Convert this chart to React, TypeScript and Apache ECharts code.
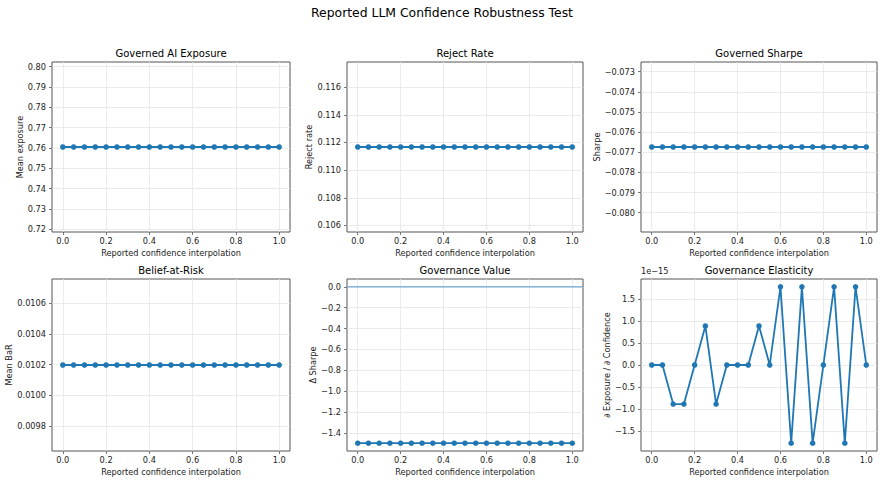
import { useEffect, useRef } from "react";
import * as echarts from "echarts";

// Reported-confidence interpolation grid (x for every panel)
const INTERP = [
  0.0, 0.05, 0.1, 0.15, 0.2, 0.25, 0.3, 0.35, 0.4, 0.45, 0.5,
  0.55, 0.6, 0.65, 0.7, 0.75, 0.8, 0.85, 0.9, 0.95, 1.0,
];

const MEAN_EXPOSURE = [
  0.7605, 0.7605, 0.7605, 0.7605, 0.7605, 0.7605, 0.7605, 0.7605, 0.7605, 0.7605, 0.7605,
  0.7605, 0.7605, 0.7605, 0.7605, 0.7605, 0.7605, 0.7605, 0.7605, 0.7605, 0.7605,
];
const REJECT_RATE = [
  0.11167, 0.11167, 0.11167, 0.11167, 0.11167, 0.11167, 0.11167, 0.11167, 0.11167, 0.11167, 0.11167,
  0.11167, 0.11167, 0.11167, 0.11167, 0.11167, 0.11167, 0.11167, 0.11167, 0.11167, 0.11167,
];
const GOVERNED_SHARPE = [
  -0.07674, -0.07674, -0.07674, -0.07674, -0.07674, -0.07674, -0.07674, -0.07674, -0.07674, -0.07674, -0.07674,
  -0.07674, -0.07674, -0.07674, -0.07674, -0.07674, -0.07674, -0.07674, -0.07674, -0.07674, -0.07674,
];
const MEAN_BAR = [
  0.010197, 0.010197, 0.010197, 0.010197, 0.010197, 0.010197, 0.010197, 0.010197, 0.010197, 0.010197, 0.010197,
  0.010197, 0.010197, 0.010197, 0.010197, 0.010197, 0.010197, 0.010197, 0.010197, 0.010197, 0.010197,
];
const DELTA_SHARPE = [
  -1.497, -1.497, -1.497, -1.497, -1.497, -1.497, -1.497, -1.497, -1.497, -1.497, -1.497,
  -1.497, -1.497, -1.497, -1.497, -1.497, -1.497, -1.497, -1.497, -1.497, -1.497,
];
// Elasticity, in units of 1e-15
const ELASTICITY_E15 = [
  0.0, 0.0, -0.888, -0.888, 0.0, 0.888, -0.888, 0.0, 0.0, 0.0, 0.888,
  0.0, 1.776, -1.776, 1.776, -1.776, 0.0, 1.776, -1.776, 1.776, 0.0,
];

// Reference level drawn across the Governance Value panel
const ZERO_LEVEL = 0;

// Tick labels
const X_TICKS = [0.0, 0.2, 0.4, 0.6, 0.8, 1.0];
const EXPOSURE_TICKS = [0.72, 0.73, 0.74, 0.75, 0.76, 0.77, 0.78, 0.79, 0.8];
const REJECT_TICKS = [0.106, 0.108, 0.11, 0.112, 0.114, 0.116];
const SHARPE_TICKS = [-0.08, -0.079, -0.078, -0.077, -0.076, -0.075, -0.074, -0.073];
const BAR_TICKS = [0.0098, 0.01, 0.0102, 0.0104, 0.0106];
const VALUE_TICKS = [-1.4, -1.2, -1.0, -0.8, -0.6, -0.4, -0.2, 0.0];
const ELASTICITY_TICKS = [-1.5, -1.0, -0.5, 0.0, 0.5, 1.0, 1.5];

const SUPTITLE = "Reported LLM Confidence Robustness Test";
const X_LABEL = "Reported confidence interpolation";

const FONT = "DejaVu Sans";
const BLUE = "#1f77b4";
const SPINE = "#555555";
const GRIDLINE = "#e6e6e6";

const X_MIN = -0.05;
const X_MAX = 1.05;

const COL_LEFT = [52, 347, 641];
const COL_WIDTH = [238, 236, 236];
const ROW_TOP = [62, 279];
const ROW_HEIGHT = [170, 172];

// matplotlib-style autoscale: expand singular ranges, then 5% margins
function autoLimits(values: number[], extra: number[] = []): [number, number] {
  const all = values.concat(extra);
  let lo = Math.min(...all);
  let hi = Math.max(...all);
  if (lo === hi) {
    const d = Math.abs(lo) * 0.05 || 0.05;
    lo -= d;
    hi += d;
  }
  const m = (hi - lo) * 0.05;
  return [lo - m, hi + m];
}

const fmt = (digits: number) => (v: number) => v.toFixed(digits).replace("-", "\u2212");

type Panel = {
  title: string;
  yName: string;
  nameGap: number;
  values: number[];
  ticks: number[];
  digits: number;
  zeroLine?: boolean;
};

const PANELS: Panel[] = [
  { title: "Governed AI Exposure", yName: "Mean exposure", nameGap: 27, values: MEAN_EXPOSURE, ticks: EXPOSURE_TICKS, digits: 2 },
  { title: "Reject Rate", yName: "Reject rate", nameGap: 34, values: REJECT_RATE, ticks: REJECT_TICKS, digits: 3 },
  { title: "Governed Sharpe", yName: "Sharpe", nameGap: 39.5, values: GOVERNED_SHARPE, ticks: SHARPE_TICKS, digits: 3 },
  { title: "Belief-at-Risk", yName: "Mean BaR", nameGap: 34, values: MEAN_BAR, ticks: BAR_TICKS, digits: 4 },
  { title: "Governance Value", yName: "\u0394 Sharpe", nameGap: 30, values: DELTA_SHARPE, ticks: VALUE_TICKS, digits: 1, zeroLine: true },
  { title: "Governance Elasticity", yName: "\u2202 Exposure / \u2202 Confidence", nameGap: 30, values: ELASTICITY_E15, ticks: ELASTICITY_TICKS, digits: 1 },
];

export default function App() {
  const ref = useRef<HTMLDivElement>(null);

  useEffect(() => {
    if (!ref.current) return;
    const chart = echarts.init(ref.current, undefined, { renderer: "svg" });

    const grids: any[] = [];
    const xAxes: any[] = [];
    const yAxes: any[] = [];
    const series: any[] = [];
    const graphics: any[] = [
      {
        type: "text",
        x: 442,
        y: 12,
        style: { text: SUPTITLE, fontSize: 12.4, fontFamily: FONT, fill: "#000", align: "center", verticalAlign: "middle" },
      },
    ];

    PANELS.forEach((p, i) => {
      const row = Math.floor(i / 3);
      const col = i % 3;
      const left = COL_LEFT[col];
      const top = ROW_TOP[row];
      const width = COL_WIDTH[col];
      const height = ROW_HEIGHT[row];

      grids.push({
        left,
        top,
        width,
        height,
        show: true,
        borderColor: SPINE,
        borderWidth: 1,
        backgroundColor: "transparent",
        containLabel: false,
      });

      xAxes.push({
        type: "value",
        gridIndex: i,
        min: X_MIN,
        max: X_MAX,
        name: X_LABEL,
        nameLocation: "middle",
        nameGap: 16.5,
        nameTextStyle: { fontFamily: FONT, fontSize: 8.2, color: "#222" },
        axisLine: { show: false, onZero: false },
        axisTick: { show: true, length: 3, lineStyle: { color: SPINE, width: 0.8 }, customValues: X_TICKS },
        axisLabel: {
          fontFamily: FONT,
          fontSize: 8.2,
          color: "#222",
          margin: 5,
          customValues: X_TICKS,
          formatter: fmt(1),
        },
        splitLine: { show: true, lineStyle: { color: GRIDLINE, width: 0.8 } },
      });

      const [lo, hi] = autoLimits(p.values, p.zeroLine ? [ZERO_LEVEL] : []);
      yAxes.push({
        type: "value",
        gridIndex: i,
        min: lo,
        max: hi,
        name: p.yName,
        nameLocation: "middle",
        nameGap: p.nameGap,
        nameTextStyle: { fontFamily: FONT, fontSize: 8.2, color: "#222" },
        axisLine: { show: false, onZero: false },
        axisTick: { show: true, length: 3, lineStyle: { color: SPINE, width: 0.8 }, customValues: p.ticks },
        axisLabel: {
          fontFamily: FONT,
          fontSize: 8.2,
          color: "#222",
          margin: 6,
          customValues: p.ticks,
          formatter: fmt(p.digits),
        },
        splitLine: { show: true, lineStyle: { color: GRIDLINE, width: 0.8 } },
      });

      if (p.zeroLine) {
        // Horizontal reference line spanning the whole panel
        series.push({
          type: "line",
          xAxisIndex: i,
          yAxisIndex: i,
          data: [
            [X_MIN, ZERO_LEVEL],
            [X_MAX, ZERO_LEVEL],
          ],
          symbol: "none",
          lineStyle: { color: "#5597cf", width: 1 },
          silent: true,
          z: 2,
        });
      }

      series.push({
        type: "line",
        xAxisIndex: i,
        yAxisIndex: i,
        data: INTERP.map((x, k) => [x, p.values[k]]),
        symbol: "circle",
        symbolSize: 5.5,
        showSymbol: true,
        itemStyle: { color: BLUE },
        lineStyle: { color: BLUE, width: 1.8, join: "round", cap: "round" },
        silent: true,
        clip: false,
        z: 3,
      });

      graphics.push({
        type: "text",
        x: left + width / 2,
        y: top - 8.5,
        style: { text: p.title, fontSize: 10, fontFamily: FONT, fill: "#000", align: "center", verticalAlign: "middle" },
      });
    });

    // Scale factor of the elasticity panel's y axis
    graphics.push({
      type: "text",
      x: COL_LEFT[2],
      y: ROW_TOP[1] - 4,
      style: { text: "1e\u221215", fontSize: 8.2, fontFamily: FONT, fill: "#222", align: "left", verticalAlign: "bottom" },
    });

    chart.setOption({
      animation: false,
      backgroundColor: "#ffffff",
      textStyle: { fontFamily: FONT },
      grid: grids,
      xAxis: xAxes,
      yAxis: yAxes,
      series,
      graphic: graphics,
    });

    return () => chart.dispose();
  }, []);

  return (
    <div
      ref={ref}
      style={{ position: "fixed", left: 0, top: 0, width: 885, height: 483 }}
    />
  );
}
